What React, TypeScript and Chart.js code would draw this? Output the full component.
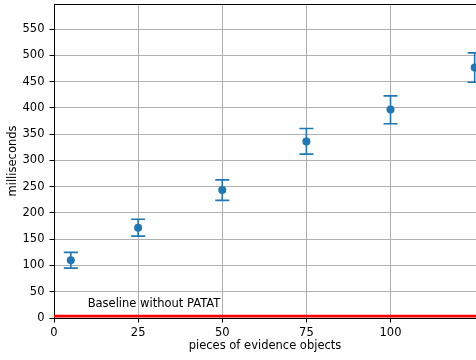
import React, { useEffect, useRef } from 'react';
import { Chart, registerables } from 'chart.js';

Chart.register(...registerables);

// ---- data ----
const evidenceCounts = [5, 25, 50, 75, 100, 125];
const meanMs = [110, 172, 244, 336, 397, 477];
const errLowMs = [95, 156, 224, 312, 370, 449];
const errHighMs = [125, 188, 263, 361, 423, 505];
const baselineMs = 3.5;
const baselineSpan = [0, 125.4];
const xTicks = [0, 25, 50, 75, 100];
const yTicks = [0, 50, 100, 150, 200, 250, 300, 350, 400, 450, 500, 550];
const xLimits = [0, 125.4];
const yLimits = [0, 598];
const annotationText = 'Baseline without PATAT';
const annotationAt = [10, 20];

const FONT = 'DejaVu Sans';
const FS = 11.5;
const BLUE = '#1f77b4';

const errorBarPlugin = {
  id: 'errorBars',
  beforeDatasetsDraw(chart: any) {
    const { ctx, scales } = chart;
    const xs = scales.x;
    const ys = scales.y;
    ctx.save();
    ctx.strokeStyle = BLUE;
    ctx.lineWidth = 1.6;
    evidenceCounts.forEach((xv, i) => {
      const px = xs.getPixelForValue(xv);
      const top = ys.getPixelForValue(errHighMs[i]);
      const bot = ys.getPixelForValue(errLowMs[i]);
      ctx.beginPath();
      ctx.moveTo(px, top);
      ctx.lineTo(px, bot);
      ctx.moveTo(px - 7, top);
      ctx.lineTo(px + 7, top);
      ctx.moveTo(px - 7, bot);
      ctx.lineTo(px + 7, bot);
      ctx.stroke();
    });
    ctx.restore();
  },
  afterDatasetsDraw(chart: any) {
    const { ctx, scales, chartArea } = chart;
    ctx.save();
    ctx.font = `${FS}px "${FONT}"`;
    ctx.fillStyle = '#000';
    ctx.textAlign = 'left';
    ctx.textBaseline = 'alphabetic';
    ctx.fillText(
      annotationText,
      scales.x.getPixelForValue(annotationAt[0]),
      scales.y.getPixelForValue(annotationAt[1])
    );
    // top spine
    ctx.strokeStyle = '#000';
    ctx.lineWidth = 1;
    ctx.beginPath();
    ctx.moveTo(chartArea.left, Math.round(chartArea.top) + 0.5);
    ctx.lineTo(chartArea.right, Math.round(chartArea.top) + 0.5);
    ctx.stroke();
    ctx.restore();
  },
};

export default function App() {
  const ref = useRef<HTMLCanvasElement | null>(null);

  useEffect(() => {
    if (!ref.current) return;
    const chart = new Chart(ref.current, {
      type: 'scatter',
      data: {
        datasets: [
          {
            type: 'line',
            label: 'baseline',
            data: baselineSpan.map((x) => ({ x, y: baselineMs })),
            borderColor: '#ff0000',
            borderWidth: 2.6,
            pointRadius: 0,
            showLine: true,
            order: 2,
          } as any,
          {
            label: 'ms',
            data: evidenceCounts.map((x, i) => ({ x, y: meanMs[i] })),
            backgroundColor: BLUE,
            borderColor: BLUE,
            pointRadius: 4,
            borderWidth: 0,
            order: 1,
          },
        ],
      },
      options: {
        responsive: false,
        animation: false,
        devicePixelRatio: 1,
        layout: { autoPadding: false, padding: { top: 4, right: 0, left: 0, bottom: 0 } },
        plugins: {
          legend: { display: false },
          tooltip: { enabled: false },
        },
        scales: {
          x: {
            type: 'linear',
            min: xLimits[0],
            max: xLimits[1],
            afterBuildTicks: (s: any) => {
              s.ticks = xTicks.map((v) => ({ value: v }));
            },
            afterFit: (s: any) => {
              s.height = 42;
              s.paddingLeft = 0;
              s.paddingRight = 0;
            },
            ticks: {
              autoSkip: false,
              maxRotation: 0,
              padding: 4,
              color: '#000',
              font: { family: FONT, size: FS },
            },
            grid: {
              color: '#b0b0b0',
              lineWidth: 1,
              tickLength: 4.5,
              tickColor: '#000',
            },
            border: { display: true, color: '#000', width: 1 },
            title: {
              display: true,
              text: 'pieces of evidence objects',
              color: '#000',
              font: { family: FONT, size: FS },
              padding: { top: 0, bottom: 7 },
            },
          },
          y: {
            type: 'linear',
            min: yLimits[0],
            max: yLimits[1],
            afterBuildTicks: (s: any) => {
              s.ticks = yTicks.map((v) => ({ value: v }));
            },
            afterFit: (s: any) => {
              s.width = 54;
              s.paddingTop = 0;
              s.paddingBottom = 0;
            },
            ticks: {
              autoSkip: false,
              padding: 5,
              color: '#000',
              font: { family: FONT, size: FS },
            },
            grid: {
              color: '#b0b0b0',
              lineWidth: 1,
              tickLength: 4.5,
              tickColor: '#000',
            },
            border: { display: true, color: '#000', width: 1 },
            title: {
              display: true,
              text: 'milliseconds',
              color: '#000',
              font: { family: FONT, size: FS },
              padding: { top: 6.4, bottom: 0 },
            },
          },
        },
      },
      plugins: [errorBarPlugin],
    });
    return () => chart.destroy();
  }, []);

  return (
    <div style={{ position: 'fixed', left: 0, top: 0, width: 476, height: 360, background: '#fff' }}>
      <canvas ref={ref} width={476} height={360} />
    </div>
  );
}
